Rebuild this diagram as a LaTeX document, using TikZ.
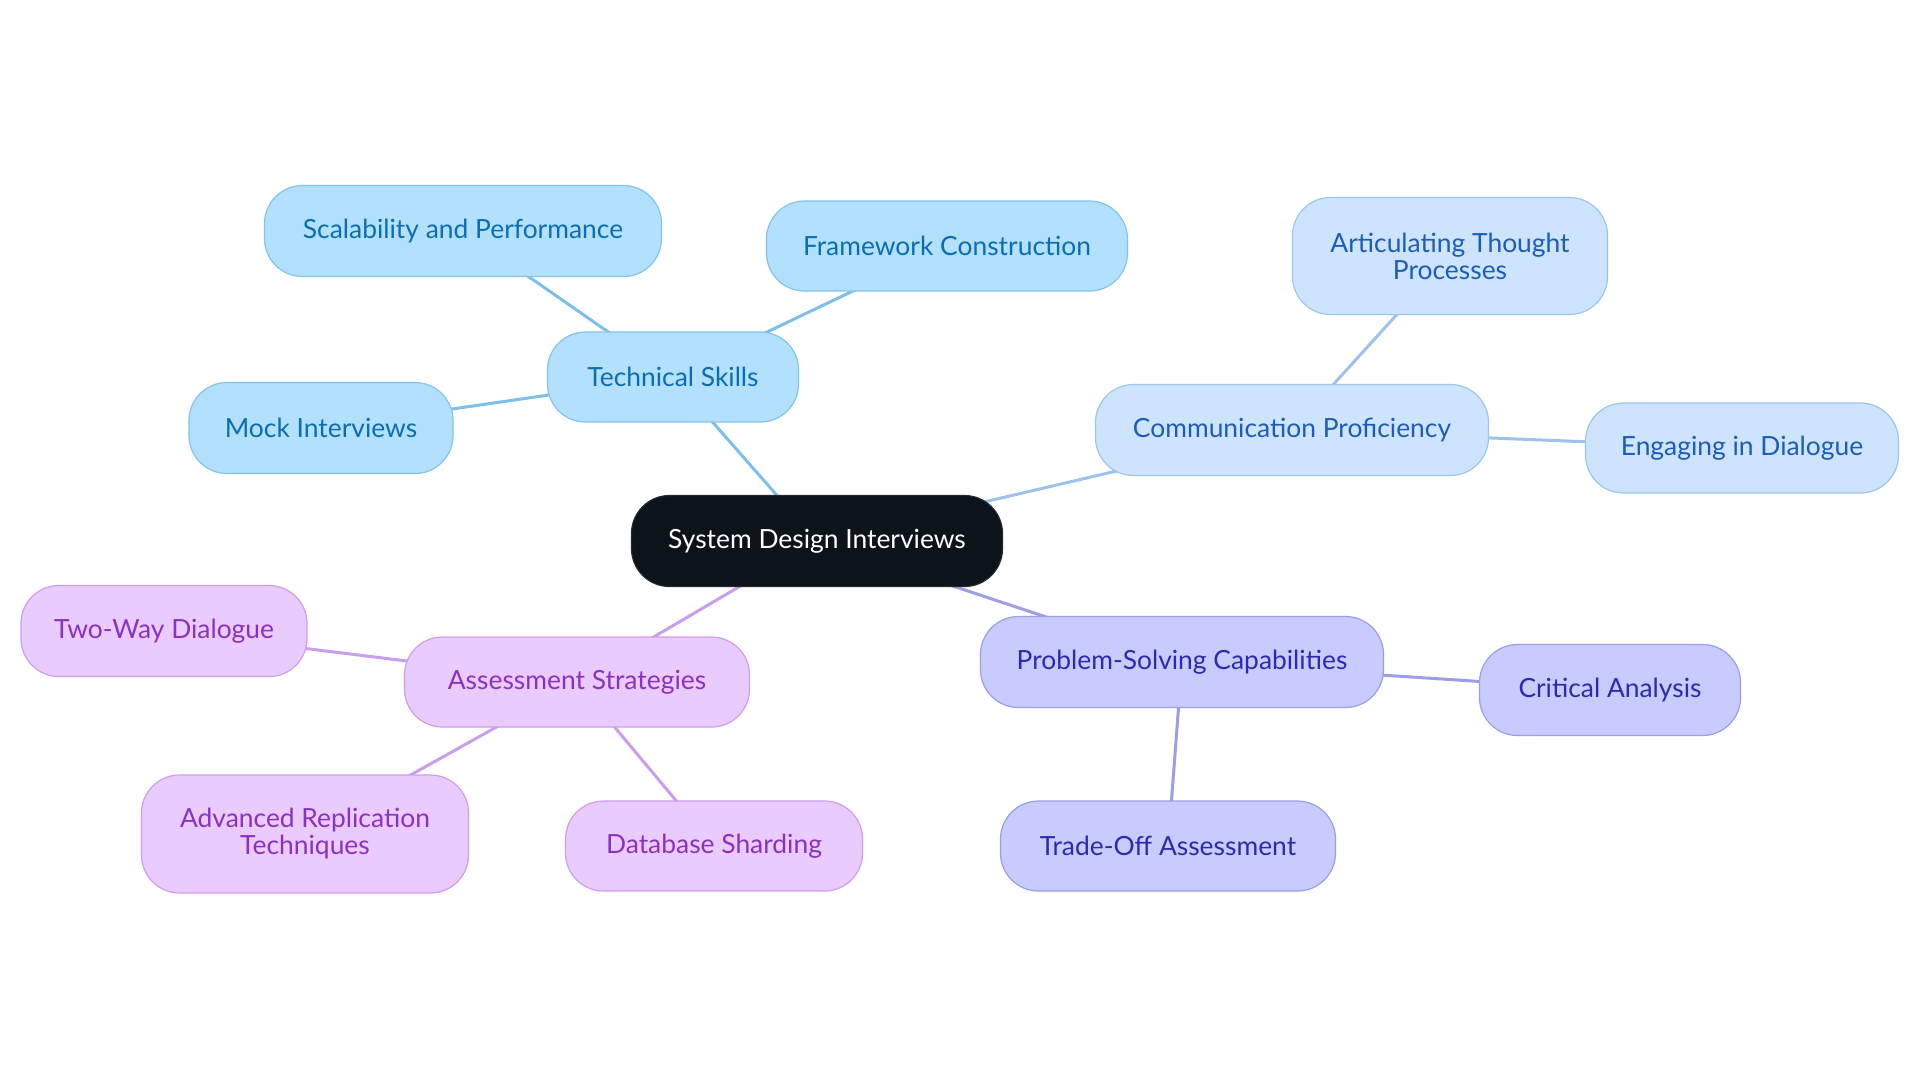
\documentclass[tikz,border=0pt]{standalone}
\usepackage{fontspec}
\setmainfont{Lato}
\usetikzlibrary{backgrounds}
\definecolor{rootFill}{HTML}{0C131B}
\definecolor{tsFill}{HTML}{B3E0FD}
\definecolor{tsDraw}{HTML}{82C4EE}
\definecolor{tsText}{HTML}{0A6EB4}
\definecolor{tsLine}{HTML}{7DBFEA}
\definecolor{cpFill}{HTML}{CEE4FC}
\definecolor{cpDraw}{HTML}{9DC6EF}
\definecolor{cpText}{HTML}{1B5DB8}
\definecolor{cpLine}{HTML}{9DC3EC}
\definecolor{psFill}{HTML}{C8CBFE}
\definecolor{psDraw}{HTML}{9B9DEA}
\definecolor{psText}{HTML}{2A2BAE}
\definecolor{psLine}{HTML}{9E9DE9}
\definecolor{asFill}{HTML}{EACBFD}
\definecolor{asDraw}{HTML}{CE9DEE}
\definecolor{asText}{HTML}{8B31C2}
\definecolor{asLine}{HTML}{C99EEB}
\tikzset{
  base/.style={rounded corners=19pt, line width=0.6pt, align=center, inner sep=0pt,
    font=\fontsize{13.2}{13.5}\selectfont},
  rootnode/.style={base, fill=rootFill, draw=rootFill!80!gray, text=white},
  tsnode/.style={base, fill=tsFill, draw=tsDraw, text=tsText},
  cpnode/.style={base, fill=cpFill, draw=cpDraw, text=cpText},
  psnode/.style={base, fill=psFill, draw=psDraw, text=psText},
  asnode/.style={base, fill=asFill, draw=asDraw, text=asText},
  conn/.style={line width=1.5pt},
  sz/.style 2 args={minimum width=#1*0.5pt, minimum height=#2*0.5pt}
}
\begin{document}
\begin{tikzpicture}[x=0.5pt, y=-0.5pt]
\useasboundingbox (0,0) rectangle (1920,1083);
\node[rootnode, sz={371}{91}] (root) at (817,541) {System Design Interviews};

\node[tsnode, sz={251}{90}] (ts) at (673,377) {Technical Skills};
\node[tsnode, sz={397}{91}] (scal) at (463,231) {Scalability and Performance};
\node[tsnode, sz={361}{90}] (frame) at (947,246) {Framework Construction};
\node[tsnode, sz={264}{91}] (mock) at (321,428) {Mock Interviews};

\node[cpnode, sz={393}{91}] (cp) at (1292,430) {Communication Proficiency};
\node[cpnode, sz={315}{117}] (art) at (1450,256) {Articulating Thought\\Processes};
\node[cpnode, sz={313}{90}] (eng) at (1742,448) {Engaging in Dialogue};

\node[psnode, sz={403}{91}] (ps) at (1182,662) {Problem-Solving Capabilities};
\node[psnode, sz={261}{91}] (crit) at (1610,690) {Critical Analysis};
\node[psnode, sz={335}{90}] (trade) at (1168,846) {Trade-Off Assessment};

\node[asnode, sz={345}{90}] (as) at (577,682) {Assessment Strategies};
\node[asnode, sz={286}{91}] (two) at (164,631) {Two-Way Dialogue};
\node[asnode, sz={327}{118}] (adv) at (305,834) {Advanced Replication\\Techniques};
\node[asnode, sz={297}{90}] (db) at (714,846) {Database Sharding};

\begin{pgfonlayer}{background}
\fill[white] (0,0) rectangle (1920,1083);
\draw[conn, tsLine] (root.center) -- (ts.center);
\draw[conn, tsLine] (ts.center) -- (scal.center);
\draw[conn, tsLine] (ts.center) -- (frame.center);
\draw[conn, tsLine] (ts.center) -- (mock.center);
\draw[conn, cpLine] (root.center) -- (cp.center);
\draw[conn, cpLine] (cp.center) -- (art.center);
\draw[conn, cpLine] (cp.center) -- (eng.center);
\draw[conn, psLine] (root.center) -- (ps.center);
\draw[conn, psLine] (ps.center) -- (crit.center);
\draw[conn, psLine] (ps.center) -- (trade.center);
\draw[conn, asLine] (root.center) -- (as.center);
\draw[conn, asLine] (as.center) -- (two.center);
\draw[conn, asLine] (as.center) -- (adv.center);
\draw[conn, asLine] (as.center) -- (db.center);
\end{pgfonlayer}
\end{tikzpicture}
\end{document}
